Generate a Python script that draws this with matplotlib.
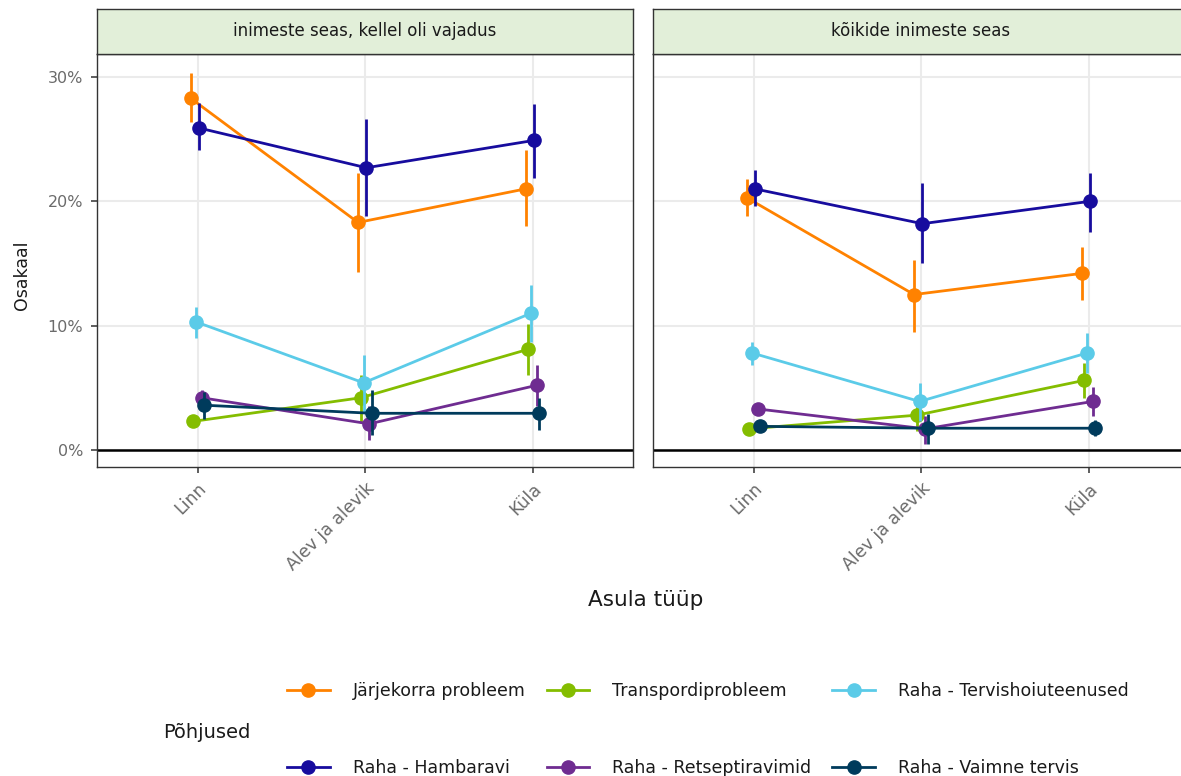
import numpy as np
import matplotlib
matplotlib.use("Agg")
import matplotlib.pyplot as plt
from matplotlib.lines import Line2D
from matplotlib.ticker import FuncFormatter

plt.rcParams['font.family'] = ['DejaVu Sans']

# asula tüübid ja paneelid
categories = ["Linn", "Alev ja alevik", "Küla"]
panels = ["inimeste seas, kellel oli vajadus", "kõikide inimeste seas"]

series = ["Järjekorra probleem", "Transpordiprobleem", "Raha - Tervishoiuteenused",
          "Raha - Hambaravi", "Raha - Retseptiravimid", "Raha - Vaimne tervis"]
colors = ["#ff8200", "#84bd00", "#5bcbe8", "#170c9e", "#6f2c91", "#003b5c"]

# osakaal (%) : [paneel][seeria][asula]
share = [
    [[28.3, 18.3, 21.0],
     [2.3, 4.2, 8.1],
     [10.3, 5.4, 11.0],
     [25.9, 22.7, 24.9],
     [4.2, 2.1, 5.2],
     [3.6, 2.95, 2.95]],
    [[20.3, 12.5, 14.2],
     [1.7, 2.8, 5.6],
     [7.8, 3.9, 7.8],
     [21.0, 18.2, 20.0],
     [3.3, 1.7, 3.9],
     [1.9, 1.75, 1.75]],
]
lower = [
    [[26.4, 14.3, 18.0],
     [1.9, 2.2, 6.0],
     [9.0, 3.0, 8.7],
     [24.1, 18.8, 21.9],
     [3.5, 0.8, 3.5],
     [2.5, 1.2, 1.6]],
    [[18.8, 9.5, 12.1],
     [1.4, 1.5, 4.2],
     [6.8, 2.3, 6.2],
     [19.6, 15.0, 17.5],
     [2.9, 0.5, 2.7],
     [1.5, 0.5, 1.1]],
]
upper = [
    [[30.3, 22.3, 24.1],
     [2.7, 6.0, 10.1],
     [11.5, 7.6, 13.3],
     [27.9, 26.6, 27.8],
     [4.8, 3.5, 6.8],
     [4.7, 4.8, 4.2]],
    [[21.8, 15.3, 16.3],
     [2.0, 4.2, 7.0],
     [8.7, 5.4, 9.4],
     [22.5, 21.5, 22.3],
     [3.7, 2.7, 5.1],
     [2.4, 2.9, 2.4]],
]

W, H = 1181, 776
fig = plt.figure(figsize=(W / 100, H / 100), dpi=100)

dark = "#333333"
grid_col = "#ebebeb"
tick_col = "#6b6b6b"
strip_fill = "#e2efd9"

panel_left = [97, 653]
panel_w = 536
panel_top, panel_bot = 54, 467
strip_top = 9

x = np.arange(len(categories))
dodge = 0.1
n = len(series)
offsets = [-dodge / 2 + dodge / (2 * n) * (2 * i + 1) for i in range(n)]

for p, name in enumerate(panels):
    ax = fig.add_axes([panel_left[p] / W, 1 - panel_bot / H,
                       panel_w / W, (panel_bot - panel_top) / H])
    ax.set_xlim(-0.6, 2.6)
    ax.set_ylim(-1.37, 31.85)
    ax.set_yticks([0, 10, 20, 30])
    ax.set_xticks(x)
    ax.grid(True, color=grid_col, lw=1.5)
    ax.set_axisbelow(True)
    for s in ax.spines.values():
        s.set_color(dark)
        s.set_linewidth(1.0)
    ax.axhline(0, color="black", lw=1.8, zorder=2)

    for i in range(n):
        xs = x + offsets[i]
        ax.vlines(xs, lower[p][i], upper[p][i], color=colors[i], lw=2.0, zorder=3 + i)
        ax.plot(xs, share[p][i], color=colors[i], lw=2.0, marker="o",
                markersize=9.5, zorder=3 + i)

    ax.set_xticklabels(categories, rotation=45, ha="right", va="top",
                       rotation_mode="anchor", fontsize=12.5, color=tick_col)
    ax.tick_params(axis="x", length=4, width=1.1, color=dark, pad=5)
    if p == 0:
        ax.yaxis.set_major_formatter(FuncFormatter(lambda v, _: f"{v:.0f}%"))
        ax.tick_params(axis="y", length=4, width=1.1, color=dark,
                       labelsize=11.5, labelcolor=tick_col, pad=6)
    else:
        ax.tick_params(axis="y", length=0, labelleft=False)

    # paneeli pealkiri
    sax = fig.add_axes([panel_left[p] / W, 1 - panel_top / H,
                        panel_w / W, (panel_top - strip_top) / H])
    sax.set_facecolor(strip_fill)
    sax.set_xticks([])
    sax.set_yticks([])
    for s in sax.spines.values():
        s.set_color(dark)
        s.set_linewidth(1.0)
    sax.text(0.5, 0.5, name, ha="center", va="center", fontsize=12,
             color="#1a1a1a", transform=sax.transAxes)

fig.text(22 / W, 1 - 275 / H, "Osakaal", rotation=90, ha="center", va="center",
         fontsize=12.5, color="#1a1a1a")
fig.text(646 / W, 1 - 600 / H, "Asula tüüp", ha="center", va="center",
         fontsize=15.5, color="#1a1a1a")

# legend: kaks rida, kolm veergu
order = [0, 3, 1, 4, 2, 5]
handles = [Line2D([], [], color=colors[i], lw=2.0, marker="o", markersize=9.5)
           for i in order]
labels = [series[i] for i in order]
fig.legend(handles, labels, ncol=3, loc="upper left",
           bbox_to_anchor=(287 / W, 1 - 682 / H), frameon=False,
           fontsize=12.5, handlelength=2.47, handletextpad=1.32,
           columnspacing=1.2, labelspacing=3.38, borderpad=0,
           borderaxespad=0, labelcolor="#1a1a1a")
fig.text(163 / W, 1 - 732 / H, "Põhjused", ha="left", va="center",
         fontsize=14, color="#1a1a1a")

fig.savefig("out.png", dpi=100)
